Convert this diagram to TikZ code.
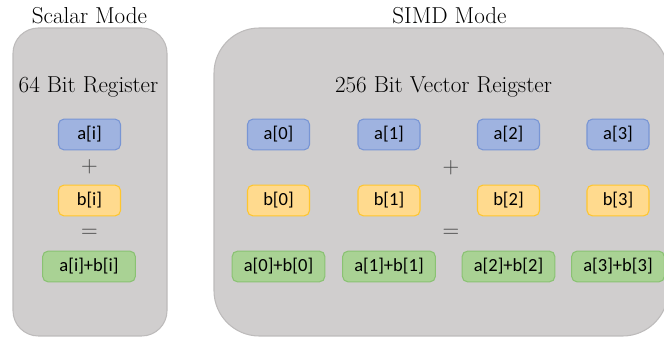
\documentclass[tikz,border=0pt]{standalone}
\usepackage{fontspec}
\newfontfamily\regfont{Carlito}
\usetikzlibrary{positioning}

\definecolor{panelgray}{HTML}{D0CECE}
\definecolor{panelline}{HTML}{BDBBBB}
\definecolor{afill}{HTML}{9FB3E0}
\definecolor{aline}{HTML}{7895D4}
\definecolor{bfill}{HTML}{FFDA8E}
\definecolor{bline}{HTML}{FFC62E}
\definecolor{sfill}{HTML}{A9D294}
\definecolor{sline}{HTML}{8AC273}

\tikzset{
  panel/.style={fill=panelgray, draw=panelline, line width=0.8pt},
  cell/.style={rounded corners=4pt, line width=0.8pt, minimum height=23pt,
               minimum width=46.5pt, inner sep=0pt, font=\regfont\fontsize{13.9}{15}\selectfont},
  acell/.style={cell, fill=afill, draw=aline},
  bcell/.style={cell, fill=bfill, draw=bline},
  scell/.style={cell, fill=sfill, draw=sline, minimum width=69.5pt},
  heading/.style={font=\fontsize{17.3}{19}\selectfont},
  op/.style={font=\fontsize{17.3}{19}\selectfont, text=black!75}
}

\begin{document}
\begin{tikzpicture}[x=0.75pt, y=-0.75pt]
    \useasboundingbox (0,0) rectangle (664,341);

    % the two register panels
    \draw[panel, rounded corners=19pt] (13,28) rectangle (167,336);
    \draw[panel, rounded corners=34pt] (214,28) rectangle (668,336);

    \node[heading] (scalartitle) at (89.5,16) {Scalar Mode};
    \node[heading] (simdtitle)   at (449.5,16) {SIMD Mode};
    \node[heading] (scalarreg)   at (88.5,87) {64 Bit Register};
    \node[heading] (simdreg)     at (443.5,87) {256 Bit Vector Reigster};

    % scalar add
    \node[acell] (ai) at (89.5,134.5) {a[i]};
    \node[op]    (plusi) at (89.5,167) {$+$};
    \node[bcell] (bi) at (89.5,200.5) {b[i]};
    \node[op]    (eqi) at (89.5,233) {$=$};
    \node[scell] (si) at (89,266.5) {a[i]+b[i]};

    % vector add, one lane per column
    \foreach \k/\x in {0/278.5, 1/389, 2/508.5, 3/618} {
        \node[acell] (a\k) at (\x,134.5) {a[\k]};
        \node[bcell] (b\k) at (\x,200.5) {b[\k]};
        \node[scell] (s\k) at (\x,266.5) {a[\k]+b[\k]};
    }
    \node[op] (plusv) at (451,168) {$+$};
    \node[op] (eqv)   at (451,233) {$=$};
\end{tikzpicture}
\end{document}
